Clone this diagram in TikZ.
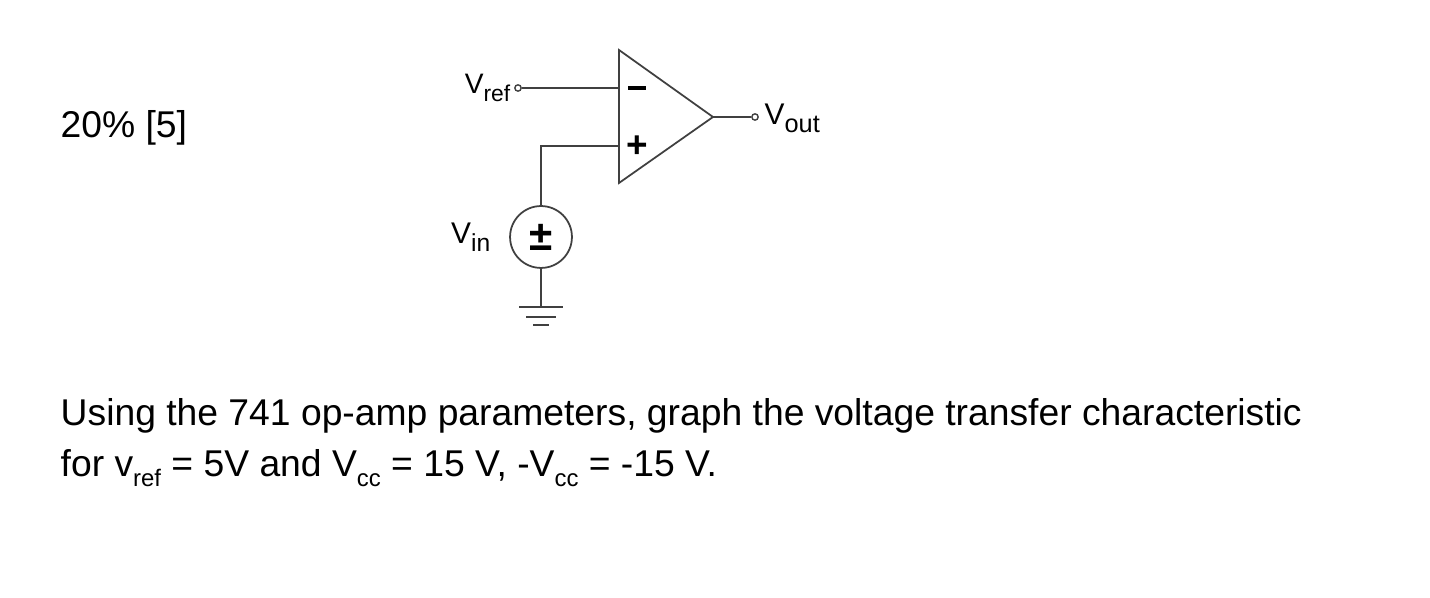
\documentclass[tikz,border=0pt]{standalone}
\usepackage{fontspec}
\setmainfont{Liberation Sans}
\begin{document}
\begin{tikzpicture}[x=0.01cm,y=-0.01cm,
  wire/.style={line width=0.5pt,black!75},
  term/.style={circle,draw,black!75,line width=0.4pt,inner sep=0pt,minimum size=1.8pt,fill=white},
  big/.style={font=\fontsize{10.6pt}{12pt}\selectfont,inner sep=0pt},
  lab/.style={font=\fontsize{8pt}{9pt}\selectfont,inner sep=0pt}]
\useasboundingbox (0,0) rectangle (1430,598);
\node[big,anchor=base west] (pct) at (60,138) {20\% [5]};
\node[big,anchor=base west] (l1) at (60,426) {Using the 741 op-amp parameters, graph the voltage transfer characteristic};
\node[big,anchor=base west] (l2) at (60,477) {for v\raisebox{-0.5ex}{\fontsize{6.8pt}{7pt}\selectfont ref} = 5V and V\raisebox{-0.5ex}{\fontsize{6.8pt}{7pt}\selectfont cc} = 15 V, -V\raisebox{-0.5ex}{\fontsize{6.8pt}{7pt}\selectfont cc} = -15 V.};
% op-amp
\coordinate (tl) at (619,50); \coordinate (bl) at (619,183); \coordinate (tip) at (713,117);
\draw[wire] (tl) -- (tip) -- (bl) -- cycle;
\node[inner sep=0pt] (minus) at (637,88) {\rule{5pt}{0.9pt}};
\node[font=\bfseries\fontsize{10.5pt}{10pt}\selectfont,inner sep=0pt] (plus) at (637,147) {+};
\coordinate (inm) at (619,88); \coordinate (inp) at (619,146);
\node[term] (tref) at (518,88) {};
\node[lab,anchor=east] (vref) at (511,88) {V\raisebox{-0.5ex}{\fontsize{6.5pt}{7pt}\selectfont ref}};
\draw[wire] (tref) -- (inm);
\node[term] (tout) at (755,117) {};
\draw[wire] (tip) -- (tout);
\node[lab,anchor=west,font=\fontsize{8.5pt}{10pt}\selectfont] (vout) at (764,118) {V\raisebox{-0.5ex}{\fontsize{7.2pt}{8pt}\selectfont out}};
% source
\node[circle,draw,black!75,line width=0.5pt,minimum size=17.6pt,inner sep=0pt] (src) at (541,237) {};
\node[inner sep=0pt,font=\bfseries\fontsize{12pt}{12pt}\selectfont] (pm) at (541,237) {±};
\node[lab,anchor=east,font=\fontsize{8.5pt}{9pt}\selectfont] (vin) at (491,237) {V\raisebox{-0.5ex}{\fontsize{7pt}{8pt}\selectfont in}};
\draw[wire] (src.north) -- (541,146) -- (inp);
\coordinate (g) at (541,307);
\draw[wire] (src.south) -- (g);
\draw[wire] (519,307) -- (563,307);
\draw[wire] (526,317) -- (556,317);
\draw[wire] (533,325) -- (549,325);
\end{tikzpicture}
\end{document}
